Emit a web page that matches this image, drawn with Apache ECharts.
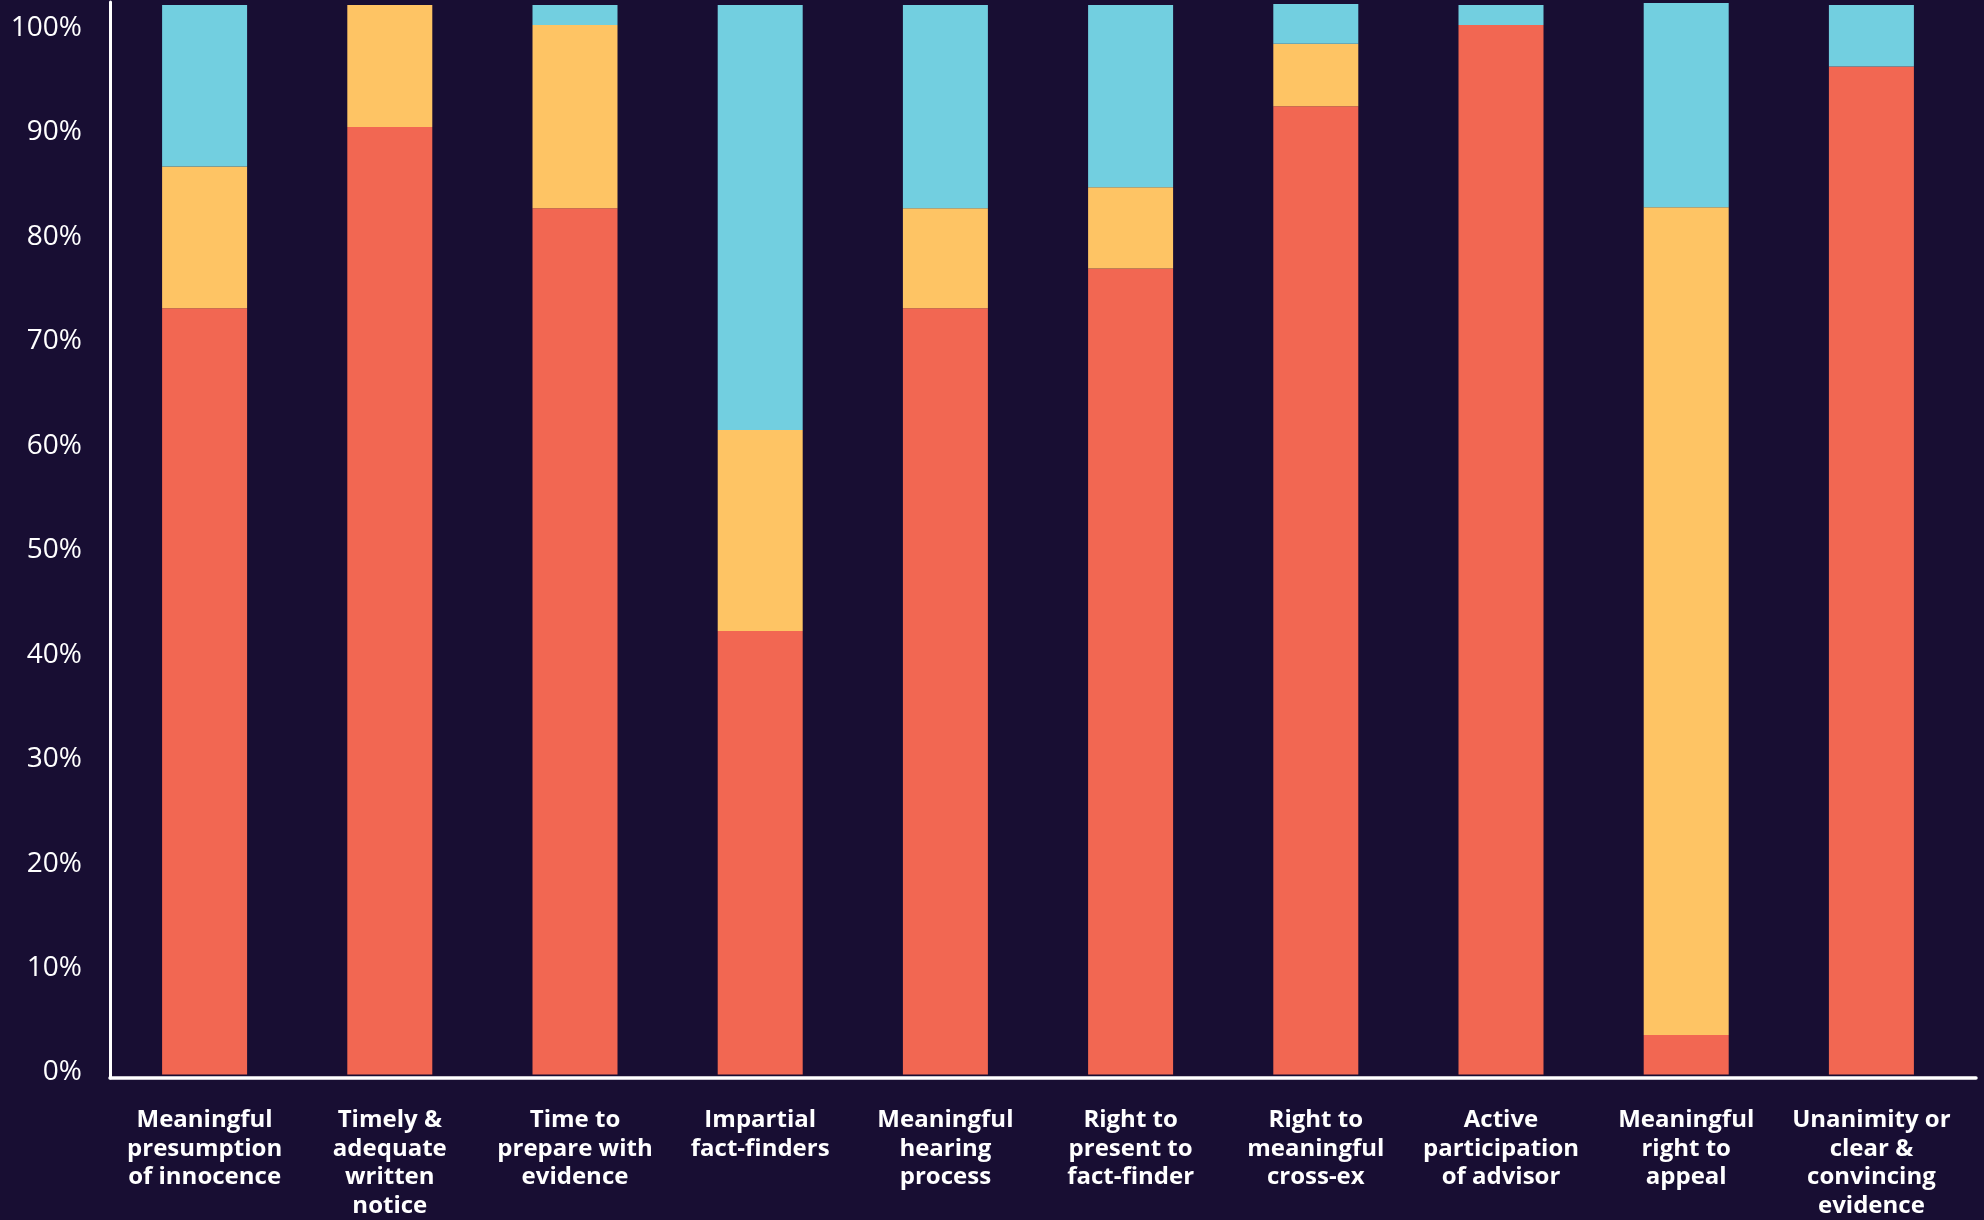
<!DOCTYPE html>
<html>
<head>
<meta charset="utf-8">
<script src="https://cdn.jsdelivr.net/npm/echarts@6/dist/echarts.min.js"></script>
<style>
html,body{margin:0;padding:0;background:#180e33;}
#chart{width:1984px;height:1220px;}
</style>
</head>
<body>
<div id="chart"></div>
<script>
const categories = [
  "Meaningful\npresumption\nof innocence",
  "Timely &\nadequate\nwritten\nnotice",
  "Time to\nprepare with\nevidence",
  "Impartial\nfact-finders",
  "Meaningful\nhearing\nprocess",
  "Right to\npresent to\nfact-finder",
  "Right to\nmeaningful\ncross-ex",
  "Active\nparticipation\nof advisor",
  "Meaningful\nright to\nappeal",
  "Unanimity or\nclear &\nconvincing\nevidence"
];
const redValues    = [73.6, 91.0, 83.2, 42.6, 73.6, 77.4, 93.0, 100.8, 3.8, 96.8];
const yellowValues = [13.6, 11.7, 17.6, 19.3, 9.6, 7.8, 6.0, 0, 79.5, 0];
const cyanValues   = [15.5, 0, 1.9, 40.8, 19.5, 17.5, 3.8, 1.9, 19.6, 5.9];

const chart = echarts.init(document.getElementById('chart'));
const barW = 85;
chart.setOption({
  backgroundColor: '#180e33',
  animation: false,
  grid: [
    { left: 112, right: 20, top: 2, bottom: 142, containLabel: false },
    { left: 110, right: 8, top: 2, bottom: 142, containLabel: false }
  ],
  xAxis: [
    {
      type: 'category',
      gridIndex: 0,
      data: categories,
      axisLine: { show: false },
      axisTick: { show: false },
      axisLabel: {
        interval: 0,
        color: '#ffffff',
        fontFamily: 'Open Sans',
        fontWeight: 'bold',
        fontSize: 24,
        lineHeight: 28.5,
        margin: 31.5,
        verticalAlign: 'top'
      }
    },
    {
      type: 'value',
      gridIndex: 1,
      min: 0, max: 1,
      axisLine: { show: true, lineStyle: { color: '#ffffff', width: 3.5 } },
      axisTick: { show: false },
      axisLabel: { show: false },
      splitLine: { show: false }
    }
  ],
  yAxis: [
    {
      type: 'value',
      gridIndex: 0,
      min: 0,
      max: 103,
      interval: 10,
      axisLine: { show: false },
      axisTick: { show: false },
      splitLine: { show: false },
      axisLabel: { show: false }
    },
    {
      type: 'value',
      gridIndex: 1,
      min: 0,
      max: 103,
      interval: 10,
      axisLine: { show: true, lineStyle: { color: '#ffffff', width: 3 } },
      axisTick: { show: false },
      splitLine: { show: false },
      axisLabel: {
        color: '#ffffff',
        fontFamily: 'Open Sans',
        fontSize: 28,
        margin: 28,
        verticalAlign: 'bottom',
        lineHeight: 11,
        formatter: function (v) { return (v % 10 === 0) ? v + '%' : ''; }
      }
    }
  ],
  series: [
    { type: 'bar', stack: 'a', data: redValues, barWidth: barW, itemStyle: { color: '#f26752' } },
    { type: 'bar', stack: 'a', data: yellowValues, barWidth: barW, itemStyle: { color: '#fec464' } },
    { type: 'bar', stack: 'a', data: cyanValues, barWidth: barW, itemStyle: { color: '#72cfe0' } }
  ]
});
</script>
</body>
</html>
